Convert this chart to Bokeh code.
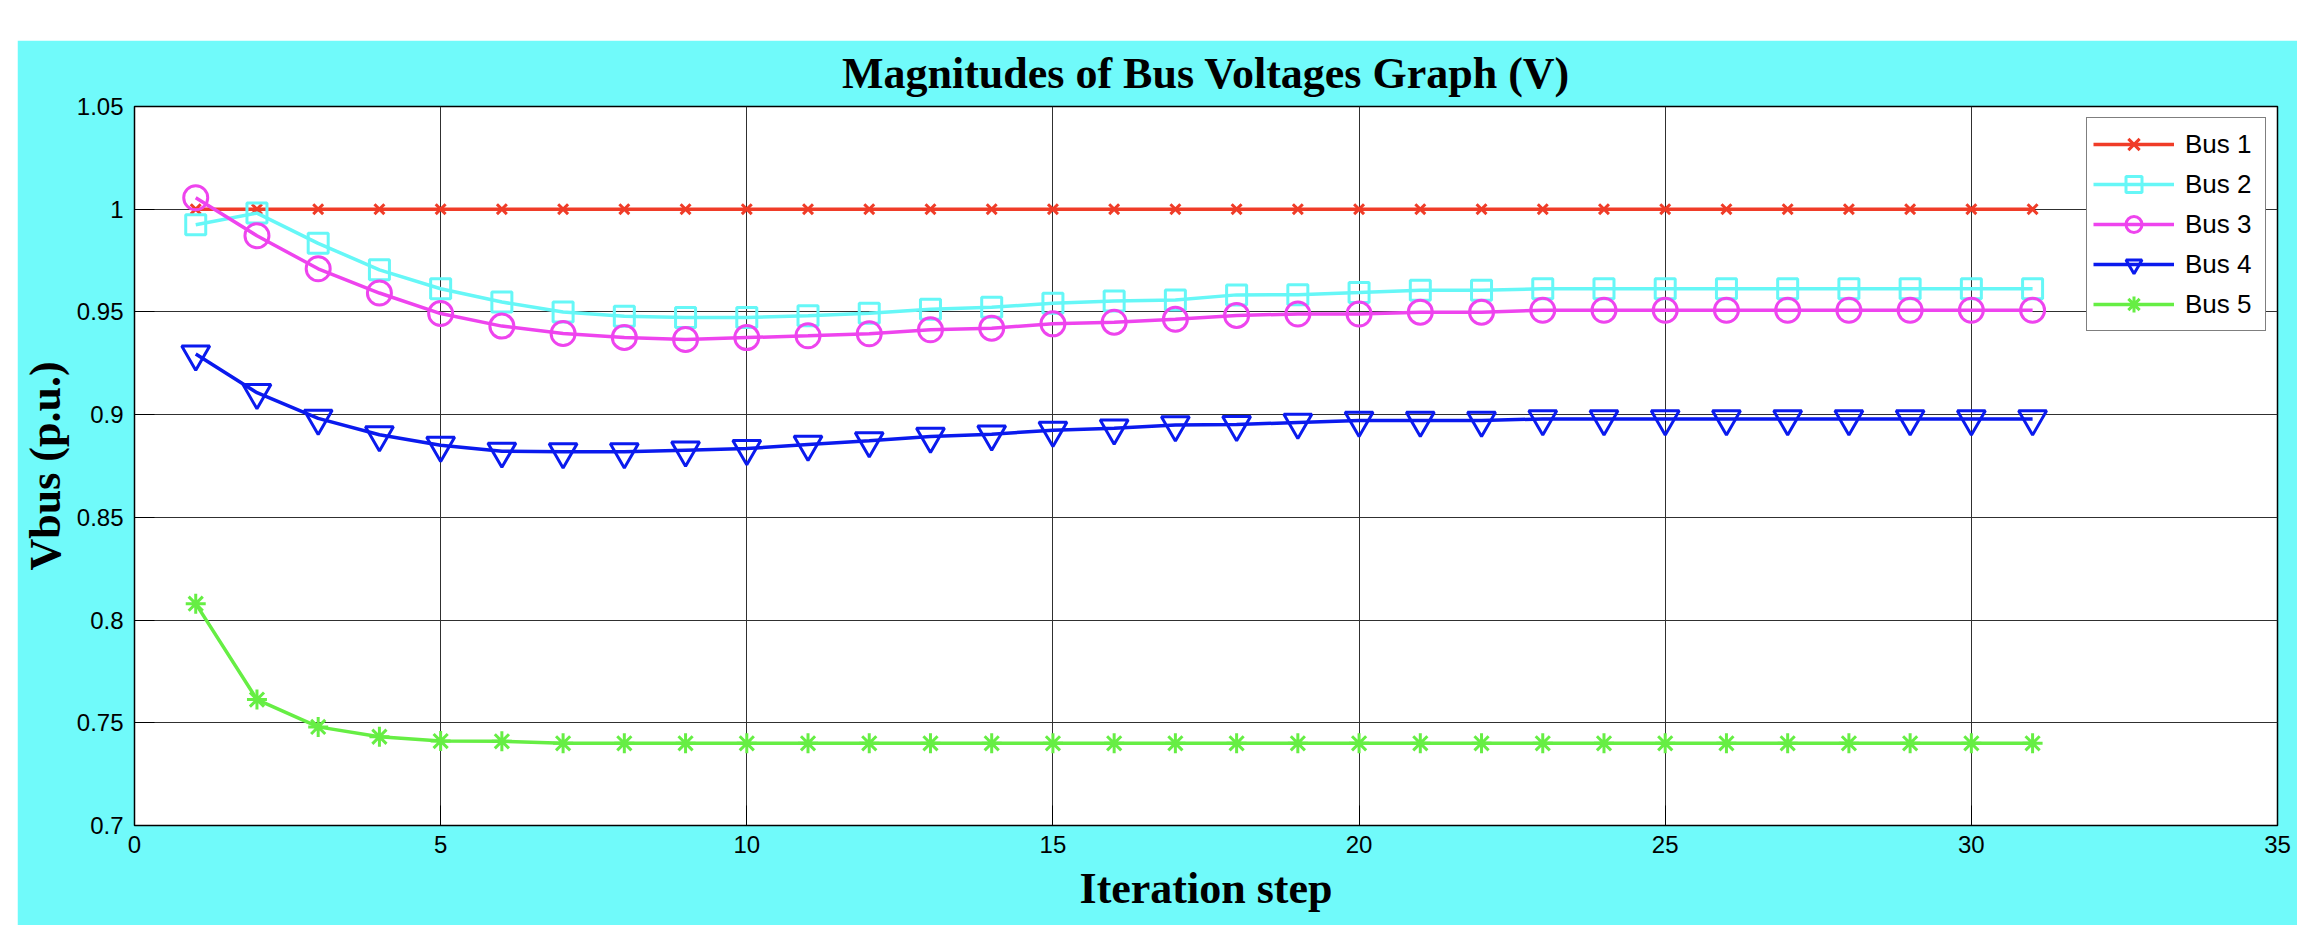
from bokeh.plotting import figure
from bokeh.models import FixedTicker, PrintfTickFormatter, Spacer
from bokeh.layouts import column, row
from bokeh.embed import file_html
from bokeh.resources import INLINE

# ---- data ----
iterations = [1, 2, 3, 4, 5, 6, 7, 8, 9, 10, 11, 12, 13, 14, 15, 16,
              17, 18, 19, 20, 21, 22, 23, 24, 25, 26, 27, 28, 29, 30, 31]

bus1 = [1.0, 1.0, 1.0, 1.0, 1.0, 1.0, 1.0, 1.0, 1.0, 1.0, 1.0, 1.0, 1.0, 1.0, 1.0, 1.0,
        1.0, 1.0, 1.0, 1.0, 1.0, 1.0, 1.0, 1.0, 1.0, 1.0, 1.0, 1.0, 1.0, 1.0, 1.0]

bus2 = [0.9924, 0.9981, 0.9834, 0.9705, 0.9613, 0.9548, 0.9500, 0.9479, 0.9473, 0.9473,
        0.9481, 0.9494, 0.9513, 0.9523, 0.9542, 0.9553, 0.9558, 0.9583, 0.9584, 0.9594,
        0.9605, 0.9605, 0.9613, 0.9613, 0.9613, 0.9613, 0.9613, 0.9613, 0.9613, 0.9613, 0.9613]

bus3 = [1.0056, 0.9871, 0.9710, 0.9592, 0.9492, 0.9431, 0.9395, 0.9376, 0.9366, 0.9375,
        0.9384, 0.9394, 0.9413, 0.9421, 0.9442, 0.9450, 0.9464, 0.9483, 0.9490, 0.9490,
        0.9499, 0.9499, 0.9508, 0.9508, 0.9508, 0.9508, 0.9508, 0.9508, 0.9508, 0.9508, 0.9508]

bus4 = [0.9295, 0.9107, 0.8982, 0.8902, 0.8851, 0.8822, 0.8819, 0.8819, 0.8827, 0.8835,
        0.8855, 0.8873, 0.8894, 0.8905, 0.8924, 0.8934, 0.8950, 0.8952, 0.8962, 0.8972,
        0.8972, 0.8972, 0.8979, 0.8979, 0.8979, 0.8979, 0.8979, 0.8979, 0.8979, 0.8979, 0.8979]

bus5 = [0.8080, 0.7613, 0.7480, 0.7432, 0.7411, 0.7410, 0.7400, 0.7400, 0.7400, 0.7400,
        0.7400, 0.7400, 0.7400, 0.7400, 0.7400, 0.7400, 0.7400, 0.7400, 0.7400, 0.7400,
        0.7400, 0.7400, 0.7400, 0.7400, 0.7400, 0.7400, 0.7400, 0.7400, 0.7400, 0.7400, 0.7400]

series_labels = ["Bus 1", "Bus 2", "Bus 3", "Bus 4", "Bus 5"]
x_ticks = [0, 5, 10, 15, 20, 25, 30, 35]
y_ticks = [0.7, 0.75, 0.8, 0.85, 0.9, 0.95, 1.0, 1.05]

title_text = "Magnitudes of Bus Voltages Graph (V)"
x_label = "Iteration step"
y_label = "Vbus (p.u.)"

# ---- styles ----
colors = ["#F03C28", "#66F7F7", "#EE44EE", "#0A1AEE", "#66EE44"]
markers = ["x", "square", "circle", "inverted_triangle", "asterisk"]
msizes = [14, 20, 24, 28, 20]
BG = "#70FAFA"

p = figure(width=2280, height=885, x_range=(0, 35), y_range=(0.7, 1.05),
           output_backend="svg", toolbar_location=None,
           min_border_left=116, min_border_right=20, min_border_top=66, min_border_bottom=100)

p.background_fill_color = "white"
p.border_fill_color = BG
p.outline_line_color = "black"
p.outline_line_width = 1.5

p.title.text = title_text
p.title.text_font = "Liberation Serif"
p.title.text_font_style = "bold"
p.title.text_font_size = "44px"
p.title.align = "center"
p.title.vertical_align = "top"
p.title.standoff = 13
p.title.text_color = "black"

p.xaxis.ticker = FixedTicker(ticks=x_ticks)
p.yaxis.ticker = FixedTicker(ticks=y_ticks)
p.yaxis.formatter = PrintfTickFormatter(format="%g")

for ax in (p.xaxis, p.yaxis):
    ax.major_tick_in = 20
    ax.major_tick_out = 0
    ax.minor_tick_in = 0
    ax.minor_tick_out = 0
    ax.major_tick_line_color = "black"
    ax.axis_line_color = "black"
    ax.major_label_text_font = "Liberation Sans"
    ax.major_label_text_font_size = "24px"
    ax.major_label_text_color = "black"
    ax.axis_label_text_font = "Liberation Serif"
    ax.axis_label_text_font_style = "bold"
    ax.axis_label_text_font_size = "44px"
    ax.axis_label_text_color = "black"

p.xaxis.axis_label = x_label
p.yaxis.axis_label = y_label
p.xaxis.major_label_standoff = 10
p.yaxis.major_label_standoff = 11
p.xaxis.axis_label_standoff = 8
p.yaxis.axis_label_standoff = 4

p.xgrid.ticker = FixedTicker(ticks=x_ticks)
p.ygrid.ticker = FixedTicker(ticks=y_ticks)
p.grid.grid_line_color = "#303030"
p.grid.grid_line_width = 1

all_series = [bus1, bus2, bus3, bus4, bus5]
for vals, lab, c, m, s in zip(all_series, series_labels, colors, markers, msizes):
    p.line(iterations, vals, line_color=c, line_width=3.5, legend_label=lab)
    p.scatter(iterations, vals, marker=m, size=s, line_color=c, fill_color=None,
              line_width=3, legend_label=lab)

lg = p.legend[0]
lg.location = "top_right"
lg.margin = 11
lg.padding = 6
lg.spacing = -2
lg.border_line_color = "black"
lg.border_line_width = 1.5
lg.background_fill_color = "white"
lg.background_fill_alpha = 1.0
lg.label_text_font = "Liberation Sans"
lg.label_text_font_size = "26px"
lg.label_text_color = "black"
lg.glyph_width = 81
lg.glyph_height = 40
lg.label_height = 40
lg.label_width = 74
lg.label_standoff = 11

layout = column(Spacer(height=40), row(Spacer(width=17), p))

with open("out.html", "w") as f:
    f.write(file_html(layout, INLINE))
